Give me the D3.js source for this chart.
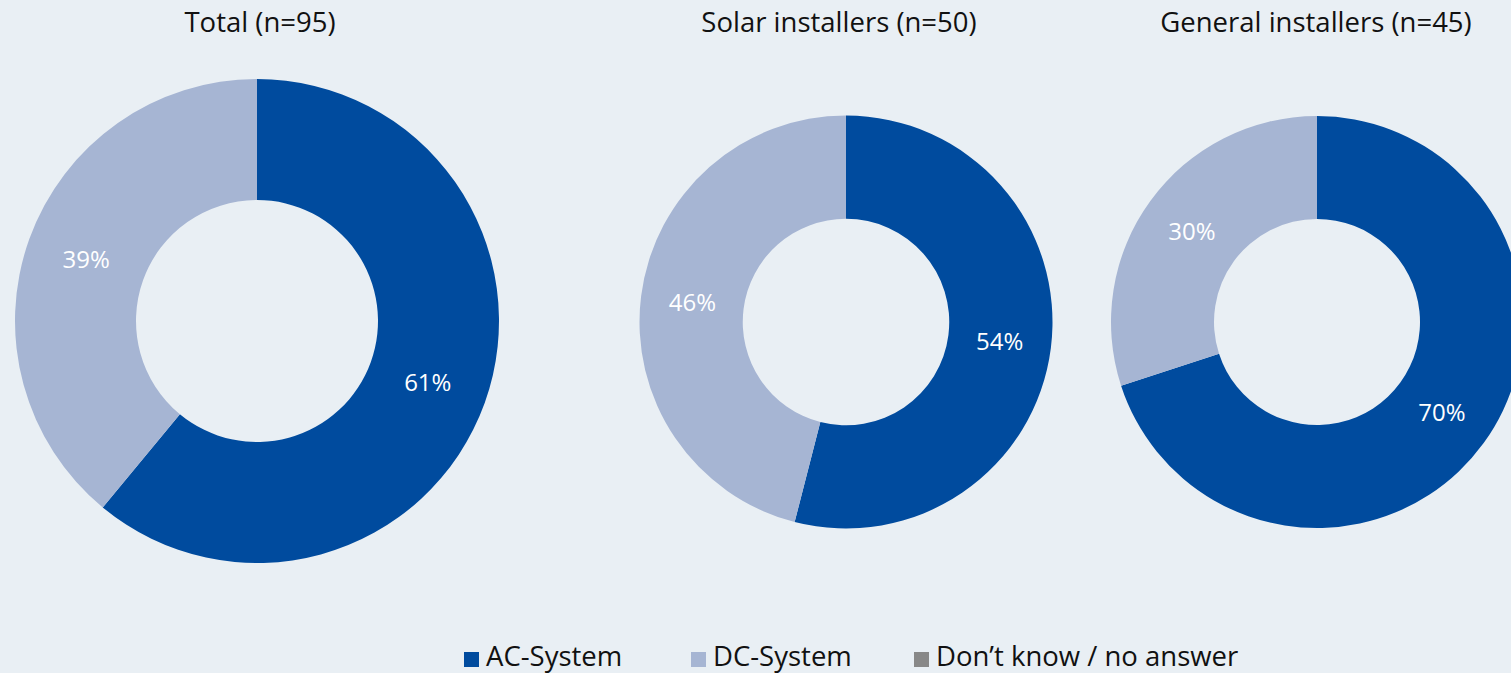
<!DOCTYPE html>
<html><head><meta charset="utf-8">
<script src="https://cdn.jsdelivr.net/npm/d3@7"></script>
<style>
html,body{margin:0;padding:0;background:#e9eff4;overflow:hidden}
svg{display:block}
text{font-family:"Open Sans","Noto Sans",sans-serif}
</style></head><body>
<svg id="c" width="1511" height="673"></svg>
<script>
const categories = ["AC-System", "DC-System", "Don\u2019t know / no answer"];
const colors = ["#004b9e", "#a6b5d3", "#888888"];
const chartTitles = ["Total (n=95)", "Solar installers (n=50)", "General installers (n=45)"];
const totalValues = [61, 39, 0];
const solarValues = [54, 46, 0];
const generalValues = [70, 30, 0];

const svg = d3.select("#c");
const W = 1511, H = 673;
svg.append("rect").attr("width", W).attr("height", H).attr("fill", "#e9eff4");

const layouts = [
  {cx: 257, cy: 321, r: 242, tx: 260, vals: totalValues},
  {cx: 846, cy: 322, r: 206.5, tx: 839, vals: solarValues},
  {cx: 1317, cy: 322, r: 206, tx: 1316, vals: generalValues}
];

const pie = d3.pie().sort(null).value(d => d);
layouts.forEach((L, i) => {
  const g = svg.append("g").attr("transform", `translate(${L.cx},${L.cy})`);
  const arc = d3.arc().innerRadius(L.r * 0.5).outerRadius(L.r);
  const arcs = pie(L.vals);
  g.selectAll("path").data(arcs).enter().append("path")
    .attr("d", arc).attr("fill", (d, j) => colors[j]);
  g.selectAll("text.lbl").data(arcs.filter(d => d.data > 0)).enter().append("text")
    .attr("class", "lbl")
    .attr("transform", d => `translate(${arc.centroid(d)})`)
    .attr("text-anchor", "middle").attr("dy", "0.36em")
    .attr("fill", "#ffffff").attr("font-size", 24)
    .text(d => d.data + "%");
  svg.append("text").attr("x", L.tx).attr("y", 32)
    .attr("text-anchor", "middle").attr("font-size", 27.5).attr("fill", "#111")
    .text(chartTitles[i]);
});

const legendX = [464, 691, 914];
const lg = svg.append("g");
categories.forEach((c, i) => {
  lg.append("rect").attr("x", legendX[i]).attr("y", 652).attr("width", 15).attr("height", 15).attr("fill", colors[i]);
  lg.append("text").attr("x", legendX[i] + 22).attr("y", 666).attr("font-size", 27.5).attr("fill", "#111").text(c);
});
</script>
</body></html>
